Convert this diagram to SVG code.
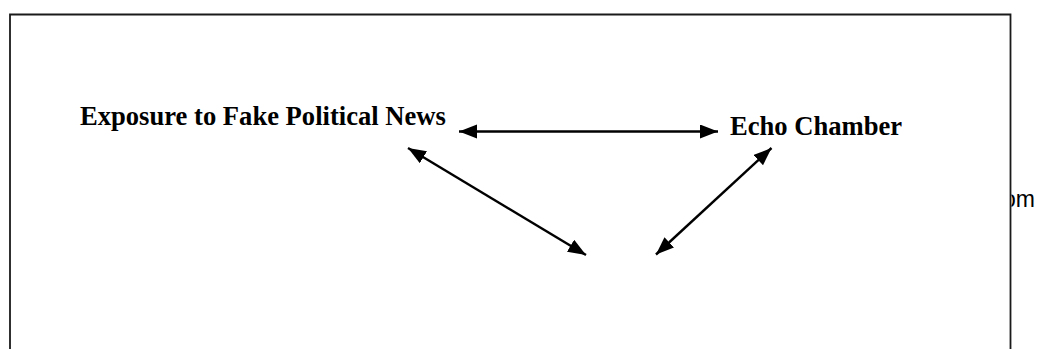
<svg xmlns="http://www.w3.org/2000/svg" width="1037" height="349" viewBox="0 0 1037 349">
<style>
.lbl{font-family:"Liberation Serif","Times New Roman",serif;font-weight:bold;font-size:26.6px;fill:#000}
.edge{stroke:#000;stroke-width:2.4;fill:none;marker-start:url(#ah);marker-end:url(#ah)}
.frame{fill:none;stroke:#1a1a1a;stroke-width:1.8}
.side{font-family:"Liberation Sans",Arial,sans-serif;font-size:23px;fill:#000}
</style>
<defs>
<marker id="ah" markerUnits="userSpaceOnUse" markerWidth="19" markerHeight="15" refX="18" refY="7" orient="auto-start-reverse">
<path d="M0,0 L18,7 L0,14 z" fill="#000"/>
</marker>
<clipPath id="outside"><rect x="1011.5" y="0" width="30" height="349"/></clipPath>
</defs>
<path class="frame" d="M10,360 V14.5 H1010.5 V360"/>
<text class="side" x="1003" y="207" clip-path="url(#outside)">om</text>
<g id="node-exposure"><text class="lbl" x="80" y="125">Exposure to Fake Political News</text></g>
<g id="node-echo"><text class="lbl" x="730" y="135">Echo Chamber</text></g>
<g id="connectors">
<line class="edge" x1="459" y1="131.5" x2="718" y2="131.5"/>
<line class="edge" x1="408" y1="148" x2="586" y2="255"/>
<line class="edge" x1="771.5" y1="148" x2="656" y2="254.5"/>
</g>
</svg>
